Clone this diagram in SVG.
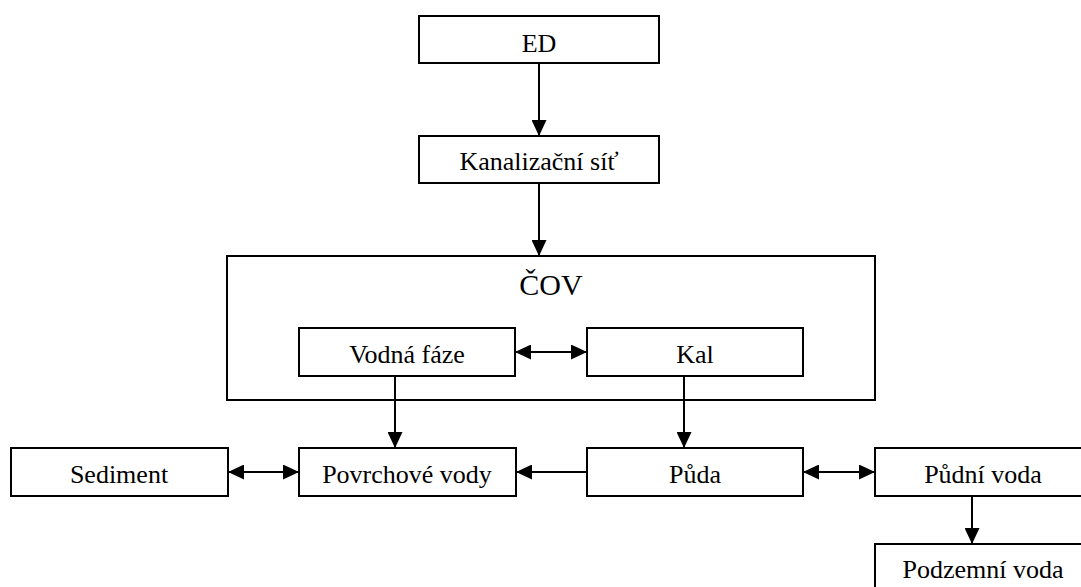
<svg xmlns="http://www.w3.org/2000/svg" width="1081" height="587" viewBox="0 0 1081 587">
<style>
.b{fill:#fff;stroke:#000;stroke-width:2}
.t{font-family:"Liberation Serif","Times New Roman",serif;font-size:26px;fill:#000;text-anchor:middle}
.big{font-size:30px}
.c{stroke:#000;stroke-width:2;fill:none}
</style>
<defs>
<marker id="ah" viewBox="0 0 16 15" refX="16" refY="7.5" markerWidth="16" markerHeight="15" markerUnits="userSpaceOnUse" orient="auto-start-reverse">
<path d="M0,0 L16,7.5 L0,15 Z" fill="#000"/>
</marker>
</defs>
<rect width="1081" height="587" fill="#fff"/>
<g id="cov"><rect class="b" x="227" y="256" width="648" height="144"/><text class="t big" x="551" y="295">ČOV</text></g>
<g id="ed"><rect class="b" x="419" y="16" width="240" height="47"/><text class="t" x="539" y="52">ED</text></g>
<g id="kanal"><rect class="b" x="419" y="136" width="240" height="47"/><text class="t" x="539" y="170">Kanalizační síť</text></g>
<g id="vodna"><rect class="b" x="299" y="328" width="216" height="48"/><text class="t" x="407" y="363">Vodná fáze</text></g>
<g id="kal"><rect class="b" x="587" y="328" width="216" height="48"/><text class="t" x="695" y="363">Kal</text></g>
<g id="sediment"><rect class="b" x="11" y="448" width="217" height="48"/><text class="t" x="119" y="483">Sediment</text></g>
<g id="povrch"><rect class="b" x="299" y="448" width="217" height="48"/><text class="t" x="407" y="483">Povrchové vody</text></g>
<g id="puda"><rect class="b" x="587" y="448" width="216" height="48"/><text class="t" x="695" y="483">Půda</text></g>
<g id="pudni"><rect class="b" x="875" y="448" width="216" height="48"/><text class="t" x="983" y="483">Půdní voda</text></g>
<g id="podzemni"><rect class="b" x="875" y="544" width="216" height="48"/><text class="t" x="983" y="578">Podzemní voda</text></g>
<g id="connectors">
<line class="c" x1="539" y1="63" x2="539" y2="136" marker-end="url(#ah)"/>
<line class="c" x1="539" y1="183" x2="539" y2="256" marker-end="url(#ah)"/>
<line class="c" x1="515" y1="352" x2="587" y2="352" marker-start="url(#ah)" marker-end="url(#ah)"/>
<line class="c" x1="395" y1="376" x2="395" y2="448" marker-end="url(#ah)"/>
<line class="c" x1="684" y1="376" x2="684" y2="448" marker-end="url(#ah)"/>
<line class="c" x1="228" y1="472" x2="299" y2="472" marker-start="url(#ah)" marker-end="url(#ah)"/>
<line class="c" x1="587" y1="472" x2="516" y2="472" marker-end="url(#ah)"/>
<line class="c" x1="803" y1="472" x2="875" y2="472" marker-start="url(#ah)" marker-end="url(#ah)"/>
<line class="c" x1="972" y1="496" x2="972" y2="544" marker-end="url(#ah)"/>
</g>
</svg>
